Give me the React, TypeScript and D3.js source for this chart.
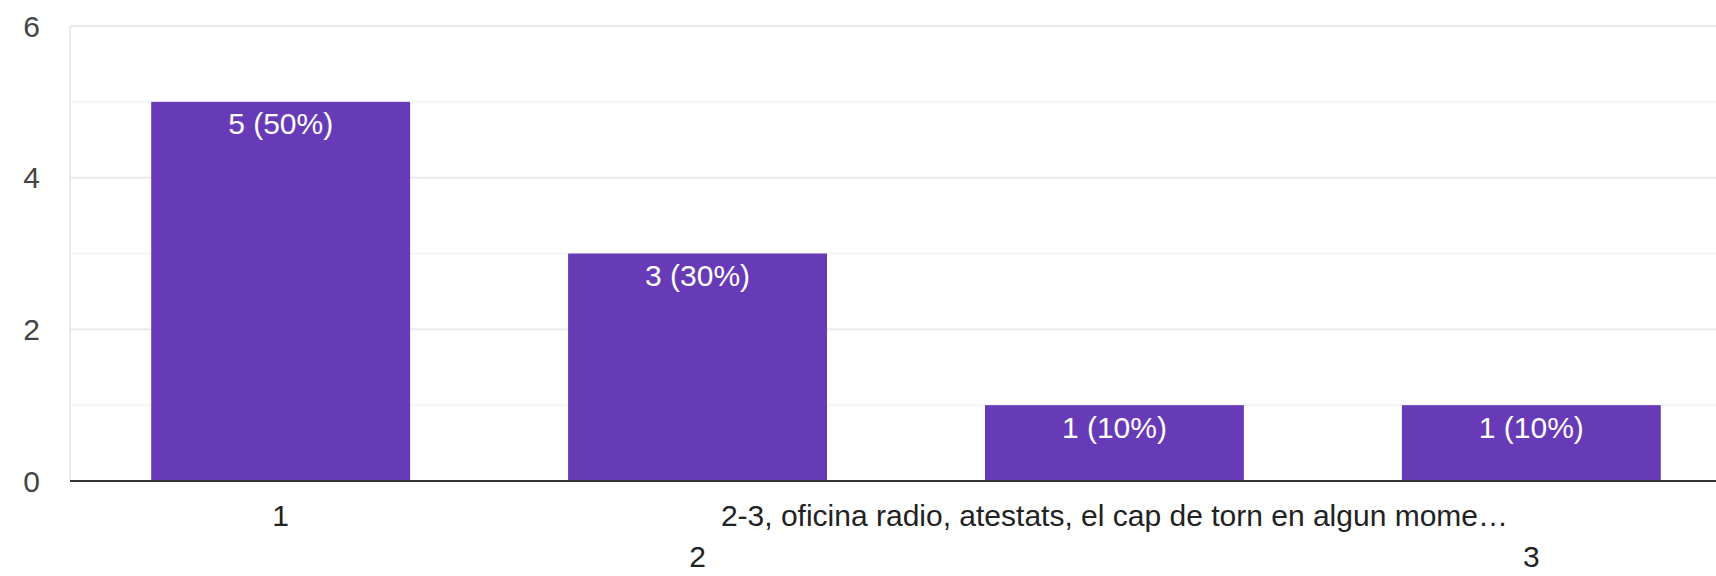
import React, { useRef, useEffect } from 'react';
import * as d3 from 'd3';

const WIDTH = 1716;
const HEIGHT = 576;
const FONT = '"Liberation Sans", Arial, Helvetica, sans-serif';
const BAR_COLOR = '#673ab7';

// answers (x categories) and how many responses each got
const categories = ['1', '2', '2-3, oficina radio, atestats, el cap de torn en algun mome…', '3'];
const counts = [5, 3, 1, 1];
const yTicks = [0, 2, 4, 6];
const yMinor = [1, 3, 5];

// label row for each category (google charts staggers them on two lines)
const labelRows = [0, 1, 0, 1];

export default function App() {
  const svgRef = useRef<SVGSVGElement>(null);

  useEffect(() => {
    if (!svgRef.current) return;
    const svg = d3.select(svgRef.current);
    svg.selectAll('*').remove();

    const total = d3.sum(counts);

    // plot is wider than the picture, right side gets cut off
    const x = d3.scaleBand<string>().domain(categories).range([72, 1740]).paddingInner(0.379).paddingOuter(0.19);
    const y = d3.scaleLinear().domain([0, 6]).range([481, 26]);

    // gridlines
    svg.append('g')
      .selectAll('line')
      .data(yMinor)
      .join('line')
      .attr('x1', 70)
      .attr('x2', WIDTH)
      .attr('y1', (d) => y(d))
      .attr('y2', (d) => y(d))
      .attr('stroke', '#f3f3f3')
      .attr('stroke-width', 1.5);

    svg.append('g')
      .selectAll('line')
      .data(yTicks.filter((d) => d > 0))
      .join('line')
      .attr('x1', 70)
      .attr('x2', WIDTH)
      .attr('y1', (d) => y(d))
      .attr('y2', (d) => y(d))
      .attr('stroke', '#ebebeb')
      .attr('stroke-width', 2);

    // left frame line
    svg.append('line')
      .attr('x1', 70)
      .attr('x2', 70)
      .attr('y1', y(6))
      .attr('y2', y(0))
      .attr('stroke', '#ebebeb')
      .attr('stroke-width', 2);

    // y labels
    svg.append('g')
      .selectAll('text')
      .data(yTicks)
      .join('text')
      .attr('x', 40)
      .attr('y', (d) => y(d))
      .attr('text-anchor', 'end')
      .attr('dominant-baseline', 'central')
      .attr('fill', '#444')
      .attr('font-size', '30px')
      .attr('font-family', FONT)
      .text((d) => String(d));

    // bars
    svg.append('g')
      .selectAll('rect')
      .data(categories)
      .join('rect')
      .attr('x', (d) => x(d) ?? 0)
      .attr('width', x.bandwidth())
      .attr('y', (_, i) => y(counts[i]))
      .attr('height', (_, i) => y(0) - y(counts[i]))
      .attr('fill', BAR_COLOR);

    // value labels inside bars
    svg.append('g')
      .selectAll('text')
      .data(categories)
      .join('text')
      .attr('x', (d) => (x(d) ?? 0) + x.bandwidth() / 2)
      .attr('y', (_, i) => y(counts[i]) + 22)
      .attr('text-anchor', 'middle')
      .attr('dominant-baseline', 'central')
      .attr('fill', '#ffffff')
      .attr('font-size', '30px')
      .attr('font-family', FONT)
      .text((_, i) => `${counts[i]} (${Math.round((counts[i] / total) * 100)}%)`);

    // baseline
    svg.append('line')
      .attr('x1', 70)
      .attr('x2', WIDTH)
      .attr('y1', y(0))
      .attr('y2', y(0))
      .attr('stroke', '#333')
      .attr('stroke-width', 2);

    // x labels, staggered on two rows
    svg.append('g')
      .selectAll('text')
      .data(categories)
      .join('text')
      .attr('x', (d) => (x(d) ?? 0) + x.bandwidth() / 2)
      .attr('y', (_, i) => 515 + labelRows[i] * 41)
      .attr('text-anchor', 'middle')
      .attr('dominant-baseline', 'central')
      .attr('fill', '#222')
      .attr('font-size', '30px')
      .attr('font-family', FONT)
      .text((d) => d);
  }, []);

  return (
    <svg
      ref={svgRef}
      width={WIDTH}
      height={HEIGHT}
      viewBox={`0 0 ${WIDTH} ${HEIGHT}`}
      style={{ position: 'fixed', left: 0, top: 0, background: '#fff' }}
    />
  );
}
